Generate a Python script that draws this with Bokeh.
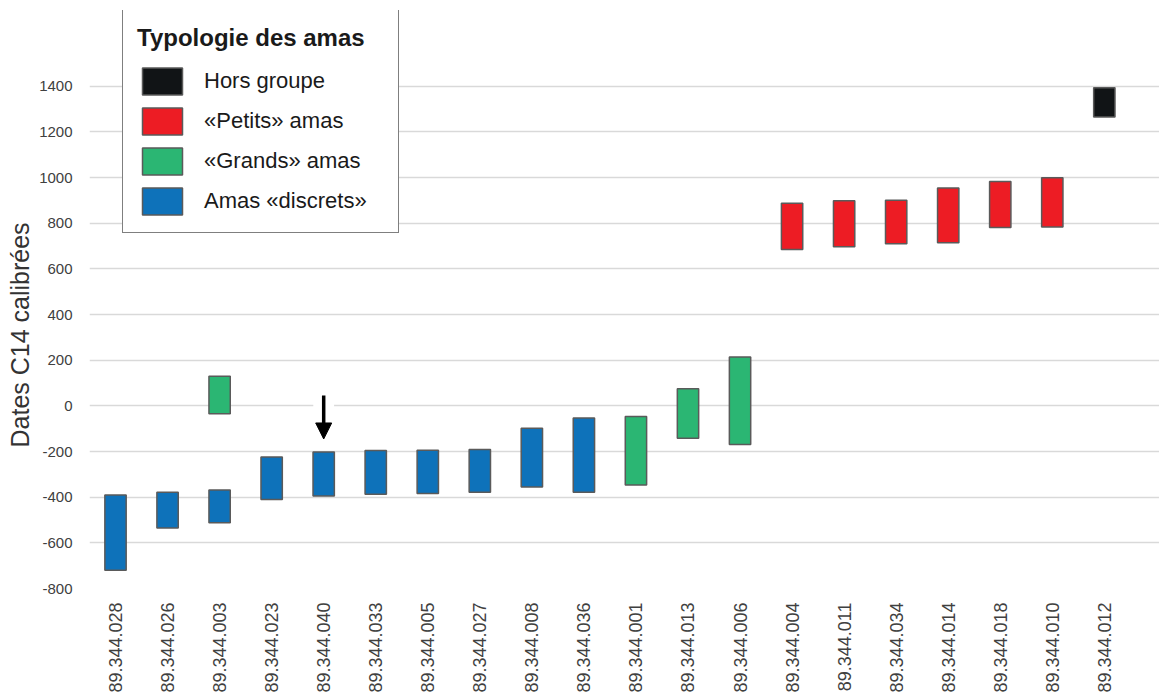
import math
from bokeh.plotting import figure
from bokeh.models import ColumnDataSource, FixedTicker, Arrow, NormalHead, Range1d, Title
from bokeh.embed import file_html
from bokeh.resources import INLINE

# ---------------- data ----------------
categories = ["89.344.028", "89.344.026", "89.344.003", "89.344.023", "89.344.040",
              "89.344.033", "89.344.005", "89.344.027", "89.344.008", "89.344.036",
              "89.344.001", "89.344.013", "89.344.006", "89.344.004", "89.344.011",
              "89.344.034", "89.344.014", "89.344.018", "89.344.010", "89.344.012"]

# one entry per bar (89.344.003 appears twice)
bar_samples = ["89.344.028", "89.344.026", "89.344.003", "89.344.003", "89.344.023",
               "89.344.040", "89.344.033", "89.344.005", "89.344.027", "89.344.008",
               "89.344.036", "89.344.001", "89.344.013", "89.344.006", "89.344.004",
               "89.344.011", "89.344.034", "89.344.014", "89.344.018", "89.344.010",
               "89.344.012"]
bar_low = [-720, -535, -512, -35, -410, -395, -387, -384, -378, -355,
           -378, -347, -142, -169, 685, 697, 710, 715, 781, 784, 1265]
bar_high = [-390, -378, -368, 130, -224, -202, -196, -194, -191, -98,
            -53, -47, 75, 214, 888, 899, 901, 954, 983, 999, 1394]
bar_group = ["discrets", "discrets", "discrets", "grands", "discrets", "discrets",
             "discrets", "discrets", "discrets", "discrets", "discrets", "grands",
             "grands", "grands", "petits", "petits", "petits", "petits", "petits",
             "petits", "hors"]

groups = ["hors", "petits", "grands", "discrets"]
group_labels = ["Hors groupe", "«Petits» amas", "«Grands» amas", "Amas «discrets»"]
group_colors = ["#111416", "#ED1C24", "#2BB673", "#0E72BA"]

y_ticks = [-800, -600, -400, -200, 0, 200, 400, 600, 800, 1000, 1200, 1400]
y_tick_labels = ["-800", "-600", "-400", "-200", "0", "200", "400", "600", "800",
                 "1000", "1200", "1400"]

# arrow pointing at sample 89.344.040
arrow_sample = "89.344.040"
arrow_y_start = 45
arrow_y_end = -145
arrow_gap_bottom = -25

legend_title = "Typologie des amas"
y_label = "Dates C14 calibrées"

FONT = "Liberation Sans"

# ---------------- figure ----------------
p = figure(width=1159, height=695, output_backend="svg", toolbar_location=None,
           x_range=Range1d(-0.5, 20.06), y_range=Range1d(-800, 1732),
           min_border_left=89, min_border_right=0, min_border_top=10,
           min_border_bottom=107)
p.outline_line_color = None
p.background_fill_color = "white"

p.xgrid.grid_line_color = None
p.ygrid.ticker = FixedTicker(ticks=y_ticks)
p.ygrid.grid_line_color = "#d9d9d9"
p.ygrid.grid_line_width = 1.5

# white gap in gridline behind arrow
ax = categories.index(arrow_sample)
p.vbar(x=[ax], bottom=[arrow_gap_bottom], top=[arrow_y_start], width=0.4,
       fill_color="white", line_color=None)

for g, lab, col in zip(groups, group_labels, group_colors):
    xs, lo, hi = [], [], []
    for s, l, h, gg in zip(bar_samples, bar_low, bar_high, bar_group):
        if gg == g:
            xs.append(categories.index(s))
            lo.append(l)
            hi.append(h)
    src = ColumnDataSource(dict(x=xs, bottom=lo, top=hi))
    p.vbar(x="x", bottom="bottom", top="top", width=0.41, source=src,
           fill_color=col, line_color="#5a5a5a", line_width=1.5,
           legend_label=lab)

p.add_layout(Arrow(x_start=ax, y_start=arrow_y_start, x_end=ax, y_end=arrow_y_end,
                   line_width=3.5, line_color="black",
                   end=NormalHead(size=16, fill_color="black", line_color="black")))

# axes
p.yaxis.ticker = FixedTicker(ticks=y_ticks)
p.yaxis.major_label_overrides = dict(zip(y_ticks, y_tick_labels))
p.yaxis.axis_line_color = None
p.yaxis.major_tick_line_color = None
p.yaxis.minor_tick_line_color = None
p.yaxis.major_label_standoff = 11
p.yaxis.major_label_text_font = FONT
p.yaxis.major_label_text_font_size = "15px"
p.yaxis.major_label_text_color = "#404040"

# y axis title (placed lower than the frame centre, like the reference)
p.add_layout(Title(text=y_label, align="left", offset=141, standoff=5,
                   text_font=FONT, text_font_size="25px", text_font_style="normal",
                   text_color="#333333"), "left")

p.xaxis.ticker = FixedTicker(ticks=list(range(len(categories))))
p.xaxis.major_label_overrides = {i: c for i, c in enumerate(categories)}
p.xaxis.major_label_orientation = math.pi / 2
p.xaxis.axis_line_color = None
p.xaxis.major_tick_line_color = None
p.xaxis.minor_tick_line_color = None
p.xaxis.major_label_standoff = 8
p.xaxis.major_label_text_font = FONT
p.xaxis.major_label_text_font_size = "18px"
p.xaxis.major_label_text_color = "#404040"

# legend
lg = p.legend[0]
lg.location = (33, 355)
lg.title = legend_title
lg.title_text_font = FONT
lg.title_text_font_size = "24px"
lg.title_text_font_style = "bold"
lg.title_text_color = "#1a1a1a"
lg.title_standoff = 12
lg.label_text_font = FONT
lg.label_text_font_size = "22px"
lg.label_text_color = "#1a1a1a"
lg.glyph_width = 50
lg.glyph_height = 34
lg.spacing = 6
lg.padding = 14
lg.margin = 0
lg.label_standoff = 17
lg.label_width = 180
lg.border_line_color = "black"
lg.border_line_width = 1.5
lg.background_fill_color = "white"
lg.background_fill_alpha = 1.0

open("out.html", "w").write(file_html(p, INLINE))
